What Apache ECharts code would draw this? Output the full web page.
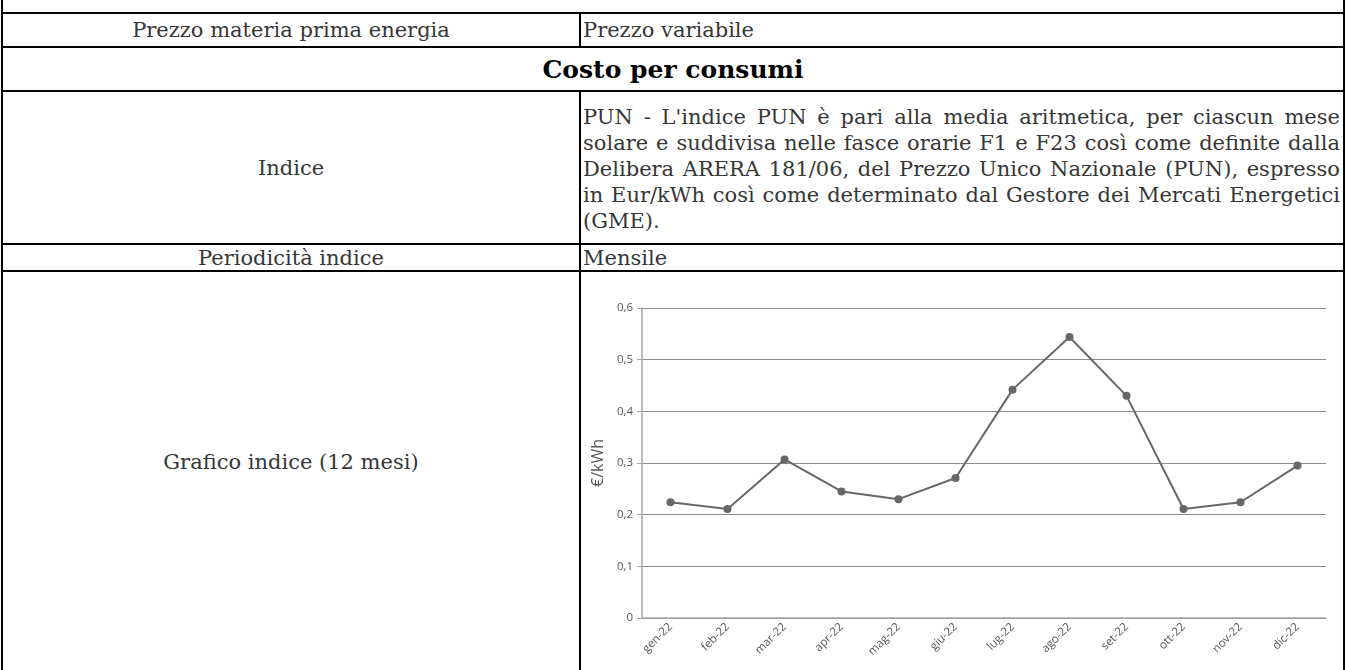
<!DOCTYPE html>
<html>
<head>
<meta charset="utf-8">
<script src="https://cdn.jsdelivr.net/npm/echarts@6/dist/echarts.min.js"></script>
<style>
  html, body { margin: 0; padding: 0; background: #fff; }
  #page { position: relative; width: 1346px; height: 670px; overflow: hidden;
          font-family: "DejaVu Serif", serif; color: #363636; font-size: 21px; }
  .hl { position: absolute; left: 1px; width: 1344px; height: 2px; background: #000; }
  .vl { position: absolute; width: 2px; background: #000; }
  .cell { position: absolute; display: flex; align-items: center; white-space: nowrap; }
  .center { justify-content: center; }
  .para { position: absolute; left: 583px; width: 757px; line-height: 26px; }
  .para div { text-align: justify; text-align-last: justify; white-space: nowrap; }
  .para div.last { text-align-last: left; }
  #plot { position: absolute; left: 582px; top: 273px; width: 762px; height: 397px; }
</style>
</head>
<body>
<div id="page">
  <div class="vl" style="left:1px;top:0;height:670px"></div>
  <div class="vl" style="left:1343px;top:0;height:670px"></div>
  <div class="hl" style="top:12px"></div>
  <div class="hl" style="top:46px"></div>
  <div class="hl" style="top:90px"></div>
  <div class="hl" style="top:243px"></div>
  <div class="hl" style="top:270px"></div>
  <div class="vl" style="left:579px;top:12px;height:36px"></div>
  <div class="vl" style="left:579px;top:90px;height:580px"></div>

  <div class="cell center" style="left:3px;width:576px;top:14px;height:32px">Prezzo materia prima energia</div>
  <div class="cell" style="left:583px;top:14px;height:32px">Prezzo variabile</div>
  <div class="cell center" style="left:3px;width:1340px;top:48px;height:42px;font-weight:bold;color:#000;font-size:25px">Costo per consumi</div>
  <div class="cell center" style="left:3px;width:576px;top:92px;height:151px">Indice</div>
  <div class="para" style="top:104px">
    <div>PUN - L'indice PUN è pari alla media aritmetica, per ciascun mese</div>
    <div>solare e suddivisa nelle fasce orarie F1 e F23 così come definite dalla</div>
    <div>Delibera ARERA 181/06, del Prezzo Unico Nazionale (PUN), espresso</div>
    <div>in Eur/kWh così come determinato dal Gestore dei Mercati Energetici</div>
    <div class="last">(GME).</div>
  </div>
  <div class="cell center" style="left:3px;width:576px;top:245px;height:25px">Periodicità indice</div>
  <div class="cell" style="left:583px;top:245px;height:25px">Mensile</div>
  <div class="cell center" style="left:3px;width:576px;top:272px;height:380px">Grafico indice (12 mesi)</div>
  <div id="plot"></div>
</div>
<script>
const months = ['gen-22', 'feb-22', 'mar-22', 'apr-22', 'mag-22', 'giu-22',
                'lug-22', 'ago-22', 'set-22', 'ott-22', 'nov-22', 'dic-22'];
const pun = [0.224, 0.211, 0.307, 0.245, 0.230, 0.271,
             0.442, 0.544, 0.430, 0.211, 0.224, 0.295];
const yTicks = [0, 0.1, 0.2, 0.3, 0.4, 0.5, 0.6];

function drawPlot() {
    const chart = echarts.init(document.getElementById('plot'));
    const gray = '#676767';
    const option = {
        animation: false,
        grid: { left: 56, right: 18, top: 35, bottom: 52 },
        xAxis: {
            type: 'category',
            data: months,
            boundaryGap: true,
            axisLine: { lineStyle: { color: '#a6a6a6', width: 1.5 } },
            axisTick: { alignWithLabel: true, length: 5, lineStyle: { color: '#a6a6a6' } },
            axisLabel: { rotate: 45, fontSize: 11.5, color: '#555', margin: 7, fontFamily: 'Open Sans' }
        },
        yAxis: {
            type: 'value',
            min: yTicks[0],
            max: yTicks[yTicks.length - 1],
            interval: 0.1,
            name: '€/kWh',
            nameLocation: 'middle',
            nameGap: 33,
            nameTextStyle: { fontSize: 16, color: '#555', fontFamily: 'Open Sans' },
            axisLine: { show: true, lineStyle: { color: '#a6a6a6', width: 1.5 } },
            axisTick: { show: true, length: 5, lineStyle: { color: '#a6a6a6' } },
            axisLabel: {
                fontSize: 11.5, color: '#555', margin: 9, fontFamily: 'Open Sans',
                formatter: v => String(Math.round(v * 10) / 10).replace('.', ',')
            },
            splitLine: { lineStyle: { color: '#8c8c8c', width: 1 } }
        },
        series: [{
            type: 'line',
            data: pun,
            symbol: 'circle',
            symbolSize: 8,
            lineStyle: { color: gray, width: 2 },
            itemStyle: { color: gray }
        }]
    };
    chart.setOption(option);
}
drawPlot();
</script>
</body>
</html>
